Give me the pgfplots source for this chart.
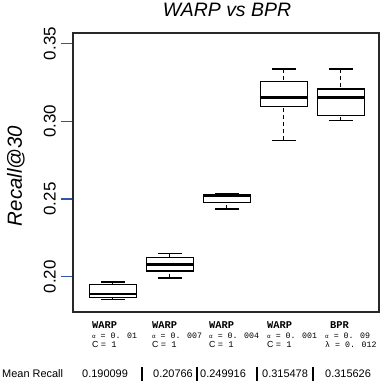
\documentclass[border=0pt]{standalone}
\usepackage{pgfplots}
\pgfplotsset{compat=1.18}
\usepgfplotslibrary{statistics}
\usepackage{fontspec}
\setmainfont{Liberation Sans}
\newfontfamily\mono{Liberation Mono}
\definecolor{tickblue}{RGB}{45, 85, 170}
\definecolor{frame}{RGB}{40, 40, 40}

% one category label: x, name, parameter line, C/lambda line
\newcommand\lab[4]{%
  \node[anchor=base west, inner sep=0] at (#1bp, -16bp) {\mono\bfseries\fontsize{10.4}{11}\selectfont #2};
  \node[anchor=base west, inner sep=0] at (#1bp, -26bp) {\mono\fontsize{8.3}{9}\selectfont #3};
  \node[anchor=base west, inner sep=0] at (#1bp, -35bp) {\fontsize{8.8}{9}\selectfont #4};
}
\newcommand\al{{\fontsize{6}{6}\selectfont α}}

\begin{document}
\begin{tikzpicture}
\useasboundingbox (-73bp,-70bp) rectangle (309bp,312bp);
\begin{axis}[
  at={(0,0)}, anchor=south west,
  scale only axis, width=306bp, height=279bp,
  xmin=0.3, xmax=5.67, ymin=0.1773, ymax=0.3568,
  xtick=\empty,
  ytick={0.20,0.25,0.30,0.35},
  ytick pos=left,
  tick align=outside,
  major tick length=12bp,
  every tick/.style={tickblue, line width=1.2bp},
  yticklabel shift=5bp,
  yticklabel style={rotate=90, anchor=south, inner sep=0pt,
    font=\fontsize{17}{17}\selectfont,
    /pgf/number format/.cd, fixed, fixed zerofill, precision=2},
  axis line style={frame, line width=1.3bp},
  /pgf/number format/assume math mode=true,
  boxplot/draw direction=y,
  boxplot/box extend=0.82,
  boxplot/whisker extend=0.42,
  boxplot/every box/.style={line width=1.3bp},
  boxplot/every median/.style={line width=2.8bp},
  boxplot/draw/lower whisker/.code={%
    \draw[dashed, dash pattern=on 4bp off 3bp, line width=1.2bp]
      (boxplot cs:\pgfplotsboxplotvalue{lower whisker}) --
      (boxplot cs:\pgfplotsboxplotvalue{lower quartile});
    \draw[line width=1.2bp]
      (boxplot whisker cs:\pgfplotsboxplotvalue{lower whisker},0) --
      (boxplot whisker cs:\pgfplotsboxplotvalue{lower whisker},1);},
  boxplot/draw/upper whisker/.code={%
    \draw[dashed, dash pattern=on 4bp off 3bp, line width=1.2bp]
      (boxplot cs:\pgfplotsboxplotvalue{upper whisker}) --
      (boxplot cs:\pgfplotsboxplotvalue{upper quartile});
    \draw[line width=1.2bp]
      (boxplot whisker cs:\pgfplotsboxplotvalue{upper whisker},0) --
      (boxplot whisker cs:\pgfplotsboxplotvalue{upper whisker},1);},
]
\addplot[black, boxplot prepared={draw position=1,
  lower whisker=0.1852, lower quartile=0.1865, median=0.1889,
  upper quartile=0.1949, upper whisker=0.1966}] coordinates {};
\addplot[black, boxplot prepared={draw position=2,
  lower whisker=0.1992, lower quartile=0.2037, median=0.2080,
  upper quartile=0.2122, upper whisker=0.2148}] coordinates {};
\addplot[black, boxplot prepared={draw position=3,
  lower whisker=0.2436, lower quartile=0.2479, median=0.2521,
  upper quartile=0.2530, upper whisker=0.2537}] coordinates {};
\addplot[black, boxplot prepared={draw position=4,
  lower whisker=0.2878, lower quartile=0.3094, median=0.3152,
  upper quartile=0.3255, upper whisker=0.3337}] coordinates {};
\addplot[black, boxplot prepared={draw position=5,
  lower whisker=0.3004, lower quartile=0.3036, median=0.3152,
  upper quartile=0.3208, upper whisker=0.3337}] coordinates {};
\end{axis}

% title and y label
\node[anchor=base, inner sep=0] at (154bp, 295bp)
  {\fontsize{19.5}{19.5}\selectfont\itshape WARP vs BPR};
\node[rotate=90, inner sep=0] at (-57bp, 136bp)
  {\fontsize{20.5}{20.5}\selectfont\itshape Recall@30};

% category labels
\lab{19}{WARP}{\al{} = 0. 01}{C {\mono= 1}}
\lab{79}{WARP}{\al{} = 0. 007}{C {\mono= 1}}
\lab{136}{WARP}{\al{} = 0. 004}{C {\mono= 1}}
\lab{194}{WARP}{\al{} = 0. 001}{C {\mono= 1}}
\node[anchor=base west, inner sep=0] at (257bp, -16bp) {\mono\bfseries\fontsize{10.4}{11}\selectfont BPR};
\node[anchor=base west, inner sep=0] at (252bp, -26bp) {\mono\fontsize{8.3}{9}\selectfont \al{} = 0. 09};
\node[anchor=base west, inner sep=0] at (252bp, -35bp) {\mono\fontsize{8.3}{9}\selectfont λ = 0. 012};

% mean recall row
\begin{scope}[every node/.style={anchor=base west, inner sep=0, font=\fontsize{11}{12}\selectfont}]
\node at (-71bp, -65bp) {Mean Recall};
\node at (9bp, -65bp) {0.190099};
\node at (80bp, -65bp) {0.20766};
\node at (127bp, -65bp) {0.249916};
\node at (189bp, -65bp) {0.315478};
\node at (252bp, -65bp) {0.315626};
\end{scope}
\foreach \x in {69,124,184,240}
  \draw[line width=1.4bp] (\x bp, -55bp) -- (\x bp, -69bp);
\end{tikzpicture}
\end{document}
